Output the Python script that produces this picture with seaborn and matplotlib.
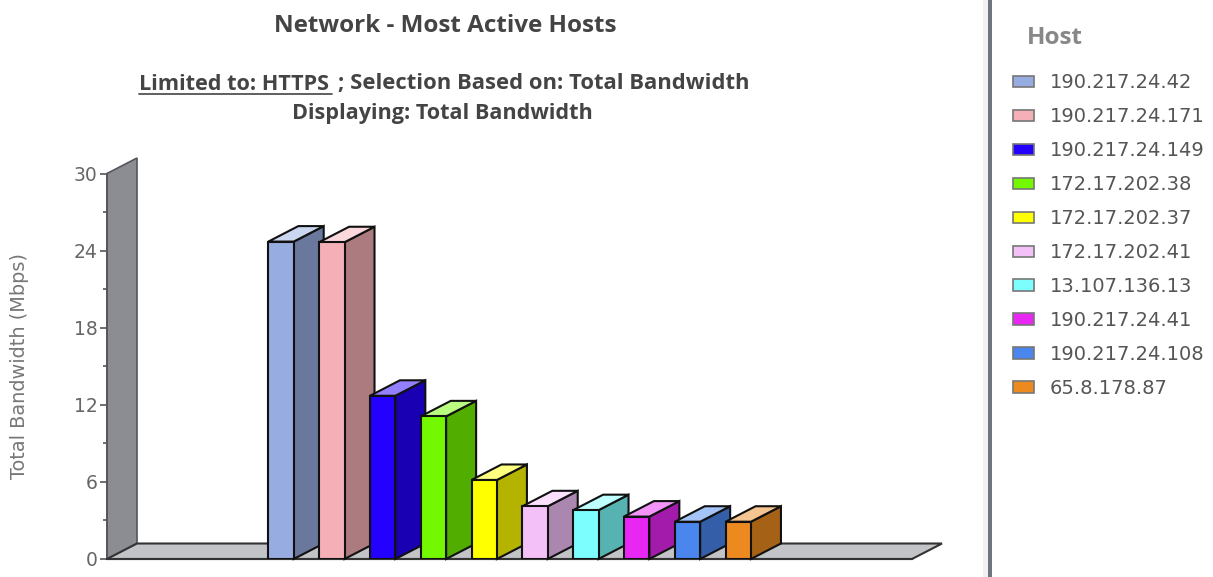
import matplotlib
matplotlib.use("Agg")
import matplotlib.pyplot as plt
import matplotlib.colors as mc
from matplotlib.patches import Polygon, Rectangle, Patch
from matplotlib.lines import Line2D
import numpy as np
import pandas as pd
import seaborn as sns

hosts = ["190.217.24.42", "190.217.24.171", "190.217.24.149", "172.17.202.38",
         "172.17.202.37", "172.17.202.41", "13.107.136.13", "190.217.24.41",
         "190.217.24.108", "65.8.178.87"]
bandwidth = [24.7, 24.65, 12.7, 11.1, 6.15, 4.1, 3.8, 3.3, 2.9, 2.9]
colors = ["#97ACE0", "#F4B0B6", "#2400FF", "#73F800", "#FFFF00",
          "#F4C0F8", "#7DFEFE", "#E927F4", "#4A86EE", "#EC8A20"]
yticks_major = [0, 6, 12, 18, 24, 30]
yticks_minor = [3, 9, 15, 21, 27]
title = "Network - Most Active Hosts"
sub_a = "Limited to: HTTPS "
sub_b = "; Selection Based on: Total Bandwidth"
sub_c = "Displaying: Total Bandwidth"
ylabel = "Total Bandwidth (Mbps)"

W, H = 1213, 577
sns.set_theme(style="white")
plt.rcParams["font.family"] = ["DejaVu Sans"]
fig = plt.figure(figsize=(W / 100, H / 100), dpi=100)
fx = lambda p: p / W
fy = lambda p: 1 - p / H

ax = fig.add_axes([fx(107), fy(559), 805 / W, 385.5 / H])
df = pd.DataFrame({"host": hosts, "bw": bandwidth})
sns.barplot(data=df, x="host", y="bw", hue="host", palette=colors, dodge=False,
            width=0.5, edgecolor="#111111", linewidth=1.5, legend=False, ax=ax, saturation=1)

ax.set_xlim(-3.425, 12.42)
ax.set_ylim(0, 30)
DX, DY = 30 / 50.8, 15.5 / 12.85
x0, x1 = ax.get_xlim()

# wall and floor
ax.add_patch(Polygon([(x0, 0), (x0, 30), (x0 + DX, 30 + DY), (x0 + DX, DY)], closed=True,
                     fc="#8C8D92", ec="#55565A", lw=1.2, clip_on=False, zorder=1))
ax.add_patch(Polygon([(x0, 0), (x1, 0), (x1 + DX, DY), (x0 + DX, DY)], closed=True,
                     fc="#C3C4C8", ec="#333333", lw=1.5, clip_on=False, zorder=1))

# extruded sides
bars = [b for c in ax.containers for b in c]
for i, (b, col) in enumerate(zip(bars, colors)):
    l, r, v = b.get_x(), b.get_x() + b.get_width(), b.get_height()
    rgb = np.array(mc.to_rgb(col))
    side = rgb * 0.7
    top = rgb + (1 - rgb) * 0.5
    z = 3 + 2 * i
    ax.add_patch(Polygon([(r, 0), (r, v), (r + DX, v + DY), (r + DX, DY)], closed=True,
                         fc=side, ec="#111111", lw=1.5, clip_on=False, zorder=z))
    ax.add_patch(Polygon([(l, v), (r, v), (r + DX, v + DY), (l + DX, v + DY)], closed=True,
                         fc=top, ec="#111111", lw=1.5, clip_on=False, zorder=z))
    b.set_zorder(z + 1)

ax.set_xlabel("")
ax.set_ylabel("")
ax.set_xticks([])
ax.set_yticks(yticks_major)
ax.set_yticks(yticks_minor, minor=True)
ax.tick_params(axis="y", which="major", length=5, width=1.2, color="#555555",
               labelcolor="#666666", labelsize=13.5, pad=2, left=True)
ax.tick_params(axis="y", which="minor", length=3, width=1.2, color="#555555", left=True)
for s in ["top", "right"]:
    ax.spines[s].set_visible(False)
ax.spines["left"].set_color("#55565A")
ax.spines["bottom"].set_color("#333333")
ax.spines["bottom"].set_linewidth(1.5)
ax.patch.set_alpha(0)

fig.text(fx(20), fy(366), ylabel, rotation=90, ha="center", va="center",
         fontsize=13.9, color="#777777")

# headings
tc = "#444444"
hf = dict(family="Open Sans", weight="bold", color=tc, va="center")
fig.text(fx(445), fy(26), title, ha="center", fontsize=17.5, **hf)
fig.text(fx(139), fy(84), sub_a, ha="left", fontsize=15.6, **hf)
fig.text(fx(338), fy(84), sub_b, ha="left", fontsize=15.85, **hf)
fig.add_artist(Line2D([fx(139), fx(332)], [fy(93.5), fy(93.5)], color=tc, lw=1.2))
fig.text(fx(442), fy(113.5), sub_c, ha="center", fontsize=15.6, **hf)

# separator
fig.add_artist(Rectangle((fx(983), 0), 5 / W, 1, transform=fig.transFigure, fc="#F1F1F1", ec="none"))
fig.add_artist(Rectangle((fx(988), 0), 4 / W, 1, transform=fig.transFigure, fc="#70747C", ec="none"))

# legend
handles = [Patch(fc=c, ec="#777777", lw=1.2) for c in colors]
leg = fig.legend(handles, hosts, loc="upper left", bbox_to_anchor=(fx(1003.3), fy(63.5)),
                 frameon=False, fontsize=14, labelcolor="#555555",
                 handlelength=1.08, handleheight=0.52, handletextpad=0.82,
                 labelspacing=0.77, borderpad=0.5, borderaxespad=0)
fig.text(fx(1027), fy(38), "Host", fontsize=17.5, color="#888888", weight="bold",
         family="Open Sans", va="center", ha="left")

fig.savefig("out.png", dpi=100)
